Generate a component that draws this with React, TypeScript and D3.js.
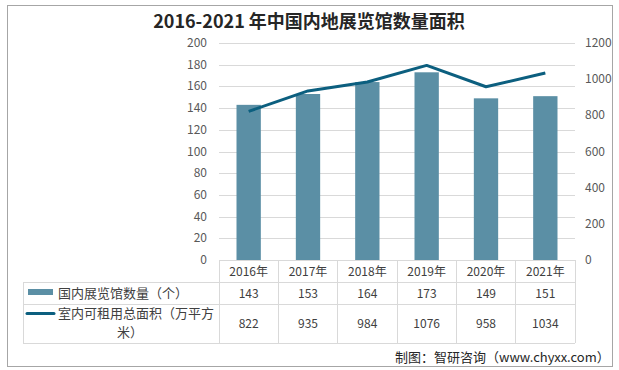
import React, { useEffect, useRef } from 'react';
import * as d3 from 'd3';

const years = ['2016年', '2017年', '2018年', '2019年', '2020年', '2021年'];
const hallCount = [143, 153, 164, 173, 149, 151];
const rentArea = [822, 935, 984, 1076, 958, 1034];
const leftTicks = [0, 20, 40, 60, 80, 100, 120, 140, 160, 180, 200];
const rightTicks = [0, 200, 400, 600, 800, 1000, 1200];
const seriesNames = ['国内展览馆数量（个）', '室内可租用总面积（万平方', '米）'];

const barColor = '#5b8fa5';
const lineColor = '#0c5f7f';
const font = '"Noto Sans CJK SC", "Noto Sans", sans-serif';

const App = () => {
  const ref = useRef<SVGSVGElement>(null);

  useEffect(() => {
    const svg = d3.select(ref.current);
    svg.selectAll('*').remove();

    const plot = { left: 219, right: 575, top: 43, bottom: 260 };

    // outer frame
    svg.append('rect')
      .attr('x', 7.5).attr('y', 5.5).attr('width', 605).attr('height', 361)
      .attr('fill', '#fff').attr('stroke', '#a6a6a6');

    svg.append('text')
      .attr('x', 309).attr('y', 28)
      .attr('text-anchor', 'middle')
      .attr('font-family', font).attr('font-weight', 'bold')
      .attr('font-size', 18).attr('fill', '#262626')
      .text('2016-2021 年中国内地展览馆数量面积');

    const x = d3.scaleBand().domain(years).range([plot.left, plot.right]);
    const yL = d3.scaleLinear().domain([0, 200]).range([plot.bottom, plot.top]);
    const yR = d3.scaleLinear().domain([0, 1200]).range([plot.bottom, plot.top]);

    // grid
    svg.append('g').selectAll('line').data(leftTicks.slice(1)).join('line')
      .attr('x1', plot.left).attr('x2', plot.right)
      .attr('y1', d => Math.round(yL(d)) + 0.5).attr('y2', d => Math.round(yL(d)) + 0.5)
      .attr('stroke', '#d9d9d9');

    // left axis labels
    svg.append('g').selectAll('text').data(leftTicks).join('text')
      .attr('x', 207).attr('y', d => yL(d) + 4)
      .attr('text-anchor', 'end')
      .attr('font-family', font).attr('font-size', 12).attr('fill', '#595959')
      .text(d => d);

    // right axis labels
    svg.append('g').selectAll('text').data(rightTicks).join('text')
      .attr('x', 585).attr('y', d => yR(d) + 4)
      .attr('font-family', font).attr('font-size', 12).attr('fill', '#595959')
      .text(d => d);

    // bars
    const bw = x.bandwidth() * 0.41;
    svg.append('g').selectAll('rect').data(hallCount).join('rect')
      .attr('x', (d, i) => x(years[i])! + (x.bandwidth() - bw) / 2)
      .attr('y', d => yL(d))
      .attr('width', bw)
      .attr('height', d => plot.bottom - yL(d))
      .attr('fill', barColor);

    // line
    const line = d3.line<number>()
      .x((d, i) => x(years[i])! + x.bandwidth() / 2)
      .y(d => yR(d));
    svg.append('path').datum(rentArea)
      .attr('d', line)
      .attr('fill', 'none').attr('stroke', lineColor).attr('stroke-width', 3)
      .attr('stroke-linejoin', 'round');

    // data table
    const tLeft = 23;
    const rows = [260, 282, 304, 343];
    const g = svg.append('g').attr('stroke', '#d9d9d9').attr('shape-rendering', 'crispEdges');
    g.append('line').attr('x1', plot.left).attr('x2', plot.right).attr('y1', rows[0]).attr('y2', rows[0]);
    rows.slice(1).forEach(r => {
      g.append('line').attr('x1', tLeft).attr('x2', plot.right).attr('y1', r).attr('y2', r);
    });
    g.append('line').attr('x1', tLeft).attr('x2', tLeft).attr('y1', rows[1]).attr('y2', rows[3]);
    years.forEach(yr => {
      g.append('line').attr('x1', x(yr)!).attr('x2', x(yr)!).attr('y1', rows[0]).attr('y2', rows[3]);
    });
    g.append('line').attr('x1', plot.right).attr('x2', plot.right).attr('y1', rows[0]).attr('y2', rows[3]);

    const cellText = (txt: string | number, cx: number, cy: number) =>
      svg.append('text').attr('x', cx).attr('y', cy).attr('text-anchor', 'middle')
        .attr('font-family', font).attr('font-size', 12).attr('fill', '#404040').text(txt);

    years.forEach((yr, i) => {
      const cx = x(yr)! + x.bandwidth() / 2;
      cellText(yr, cx, 276);
      cellText(hallCount[i], cx, 298);
      cellText(rentArea[i], cx, 328);
    });

    // legend keys
    svg.append('rect').attr('x', 28).attr('y', 289).attr('width', 25).attr('height', 6).attr('fill', barColor);
    svg.append('line').attr('x1', 27).attr('x2', 54).attr('y1', 313.5).attr('y2', 313.5)
      .attr('stroke', lineColor).attr('stroke-width', 3).attr('stroke-linecap', 'round');

    svg.append('text').attr('x', 58).attr('y', 298)
      .attr('font-family', font).attr('font-size', 13).attr('fill', '#404040').text(seriesNames[0]);
    svg.append('text').attr('x', 58).attr('y', 318)
      .attr('font-family', font).attr('font-size', 13).attr('fill', '#404040').text(seriesNames[1]);
    svg.append('text').attr('x', 130).attr('y', 337).attr('text-anchor', 'middle')
      .attr('font-family', font).attr('font-size', 13).attr('fill', '#404040').text(seriesNames[2]);

    // source
    svg.append('text').attr('x', 395).attr('y', 362)
      .attr('font-family', font).attr('font-size', 13).attr('fill', '#262626')
      .text('制图：智研咨询（www.chyxx.com）');
  }, []);

  return <svg ref={ref} width={619} height={370} style={{ display: 'block', position: 'absolute', left: 0, top: 0 }} />;
};

export default App;
